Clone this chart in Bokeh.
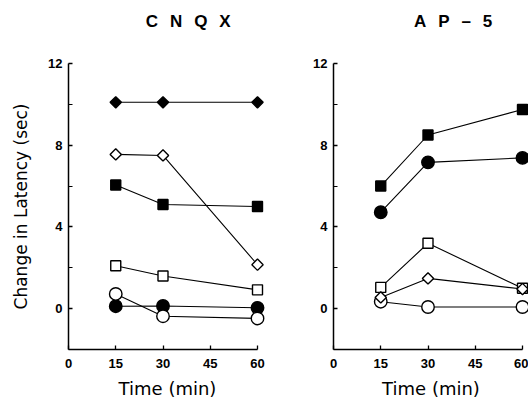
from bokeh.plotting import figure
from bokeh.layouts import row
from bokeh.models import Range1d, FixedTicker, LinearAxis
from bokeh.embed import file_html
from bokeh.resources import INLINE
import math

# ---------------- data ----------------
times = [15, 30, 60]
x_ticks = [0, 15, 30, 45, 60]
y_ticks = [0, 4, 8, 12]
y_minor_ticks = [2, 6, 10]

panel_titles = ["C\u2002\u2009N\u2002\u2009Q\u2002\u2009X", "A\u2002\u2009P\u2002\u2009\u2013\u2002\u20095"]

# CNQX panel
cnqx_filled_diamond = [10.1, 10.1, 10.1]
cnqx_open_diamond = [7.55, 7.5, 2.15]
cnqx_filled_square = [6.05, 5.1, 5.0]
cnqx_open_square = [2.1, 1.6, 0.92]
cnqx_filled_circle = [0.12, 0.13, 0.04]
cnqx_open_circle = [0.72, -0.37, -0.48]

# AP-5 panel
ap5_filled_square = [6.0, 8.5, 9.75]
ap5_filled_circle = [4.72, 7.16, 7.38]
ap5_open_square = [1.04, 3.2, 1.0]
ap5_open_circle = [0.34, 0.08, 0.08]
ap5_open_diamond = [0.55, 1.48, 0.96]

FONT = "Liberation Sans"
LABEL_FONT = "DejaVu Sans"


def add_series(p, ys, marker, filled):
    p.line(times, ys, line_color="black", line_width=1.1)
    kw = dict(fill_color="black" if filled else "white", line_color="black", line_width=1.4)
    if marker == "circle":
        p.scatter(times, ys, marker="circle", size=12.5, **kw)
    elif marker == "square":
        p.scatter(times, ys, marker="square", size=10, **kw)
    else:
        p.scatter(times, ys, marker="square", size=8, angle=math.pi / 4, **kw)


def make_panel(title, series, width, x_end, border_left, border_right, title_x, ylabel):
    p = figure(width=width, height=401, output_backend="svg", toolbar_location=None,
               x_range=Range1d(0, x_end), y_range=Range1d(-2, 12),
               min_border_left=border_left, min_border_right=border_right,
               min_border_top=63, min_border_bottom=52)
    p.outline_line_color = None
    p.grid.visible = False

    xa = p.below[0]
    xa.ticker = FixedTicker(ticks=x_ticks)
    xa.bounds = (0, 60)
    xa.major_tick_in = 4
    xa.major_tick_out = 0
    xa.minor_tick_line_color = None
    xa.axis_line_width = 1.5
    xa.major_tick_line_width = 1.3
    xa.major_label_standoff = 9
    xa.major_label_text_font = FONT
    xa.major_label_text_font_style = "bold"
    xa.major_label_text_font_size = "13px"
    xa.major_label_text_color = "black"
    xa.axis_label = "Time (min)"
    xa.axis_label_text_font = LABEL_FONT
    xa.axis_label_text_font_style = "normal"
    xa.axis_label_text_font_size = "18px"
    xa.axis_label_text_color = "black"
    xa.axis_label_standoff = 7

    ya = p.left[0]
    ya.ticker = FixedTicker(ticks=y_ticks, minor_ticks=y_minor_ticks)
    ya.major_tick_in = 4
    ya.major_tick_out = 0
    ya.minor_tick_in = 4
    ya.minor_tick_out = 0
    ya.axis_line_width = 1.5
    ya.major_tick_line_width = 1.3
    ya.minor_tick_line_width = 1.1
    ya.major_label_standoff = 6
    ya.major_label_text_font = FONT
    ya.major_label_text_font_style = "bold"
    ya.major_label_text_font_size = "13px"
    ya.major_label_text_color = "black"
    if ylabel:
        ya.axis_label = ylabel
        ya.axis_label_text_font = LABEL_FONT
        ya.axis_label_text_font_style = "normal"
        ya.axis_label_text_font_size = "17px"
        ya.axis_label_text_color = "black"
        ya.axis_label_standoff = 14

    # panel heading, drawn as the single label of an invisible top axis
    ta = LinearAxis(ticker=FixedTicker(ticks=[title_x], minor_ticks=[]),
                    major_label_overrides={title_x: title},
                    axis_line_color=None, major_tick_line_color=None,
                    minor_tick_line_color=None,
                    major_tick_in=0, major_tick_out=0,
                    minor_tick_in=0, minor_tick_out=0,
                    major_label_standoff=33,
                    major_label_text_font=FONT,
                    major_label_text_font_style="bold",
                    major_label_text_font_size="17px",
                    major_label_text_color="black")
    p.add_layout(ta, "above")

    for ys, marker, filled in series:
        add_series(p, ys, marker, filled)
    return p


left = make_panel(panel_titles[0], [
    (cnqx_filled_diamond, "diamond", True),
    (cnqx_open_diamond, "diamond", False),
    (cnqx_filled_square, "square", True),
    (cnqx_open_square, "square", False),
    (cnqx_filled_circle, "circle", True),
    (cnqx_open_circle, "circle", False),
], width=273, x_end=198 / 3.15, border_left=68, border_right=7, title_x=38,
    ylabel="Change in Latency (sec)")

right = make_panel(panel_titles[1], [
    (ap5_filled_square, "square", True),
    (ap5_filled_circle, "circle", True),
    (ap5_open_square, "square", False),
    (ap5_open_circle, "circle", False),
    (ap5_open_diamond, "diamond", False),
], width=255, x_end=195 / 3.15, border_left=60, border_right=0, title_x=38,
    ylabel=None)

layout = row(left, right)
open("out.html", "w").write(file_html(layout, INLINE))
